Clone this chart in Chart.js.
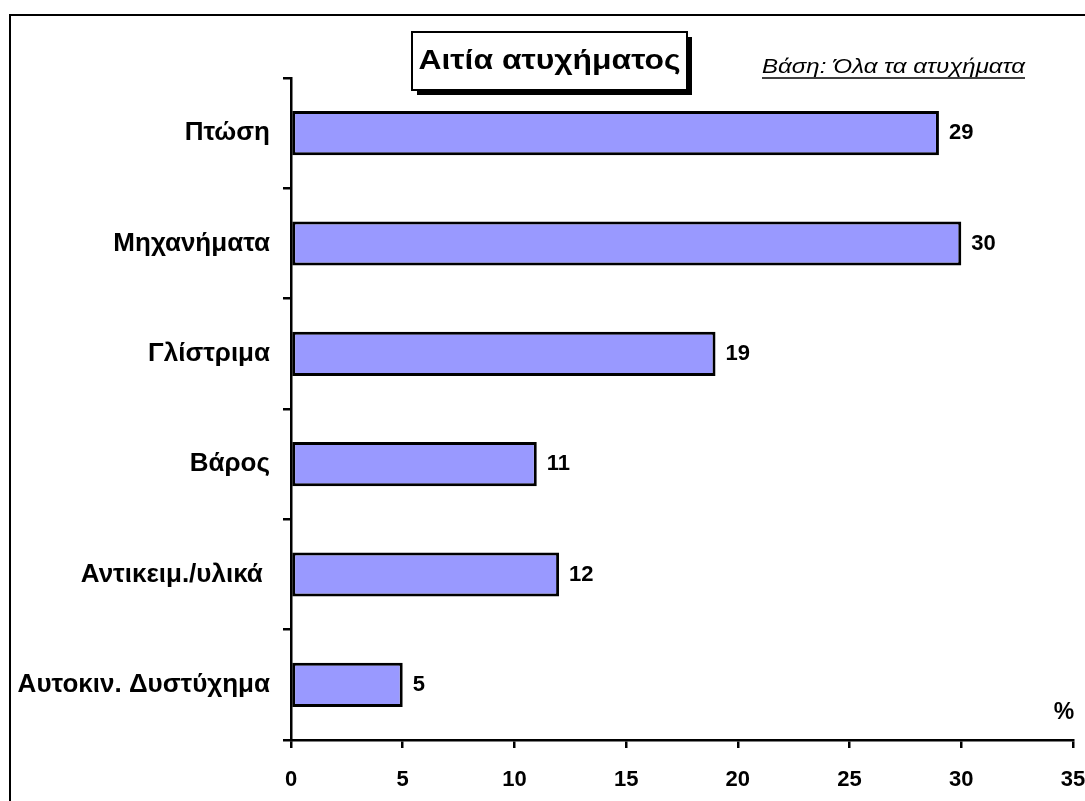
<!DOCTYPE html>
<html>
<head>
<meta charset="utf-8">
<script src="https://cdn.jsdelivr.net/npm/chart.js@4/dist/chart.umd.min.js"></script>
<style>
html,body{margin:0;padding:0;background:#fff;overflow:hidden;}
canvas{display:block;}
</style>
</head>
<body>
<canvas id="c" width="1085" height="801"></canvas>
<script>
const categories = ["Πτώση", "Μηχανήματα", "Γλίστριμα", "Βάρος", "Αντικειμ./υλικά ", "Αυτοκιν. Δυστύχημα"];
const values = [29, 30, 19, 11, 12, 5];
const xTicks = [0, 5, 10, 15, 20, 25, 30, 35];
const titleText = "Αιτία ατυχήματος";
const subtitleText = "Βάση: Όλα τα ατυχήματα";
const unitText = "%";

const FONT = "'Liberation Sans', Arial, Helvetica, sans-serif";

function drawStretched(ctx, text, cx, cy, targetW, align) {
  const w = ctx.measureText(text).width;
  const s = targetW / w;
  ctx.save();
  ctx.translate(cx, cy);
  ctx.scale(s, 1);
  ctx.textAlign = align;
  ctx.fillText(text, 0, 0);
  ctx.restore();
  return targetW;
}

const decor = {
  id: 'decor',
  beforeDraw(chart) {
    const ctx = chart.ctx;
    ctx.save();
    ctx.fillStyle = '#fff';
    ctx.fillRect(0, 0, chart.width, chart.height);
    ctx.strokeStyle = '#000';
    ctx.lineWidth = 2;
    ctx.beginPath();
    ctx.moveTo(10, chart.height + 5);
    ctx.lineTo(10, 15);
    ctx.lineTo(chart.width + 5, 15);
    ctx.stroke();
    ctx.restore();
  },
  afterDraw(chart) {
    const ctx = chart.ctx;
    ctx.save();
    const bx = 412, by = 32, bw = 275, bh = 58;
    ctx.fillStyle = '#000';
    ctx.fillRect(bx + 5, by + 5, bw, bh);
    ctx.fillStyle = '#fff';
    ctx.fillRect(bx, by, bw, bh);
    ctx.strokeStyle = '#000';
    ctx.lineWidth = 2;
    ctx.strokeRect(bx, by, bw, bh);
    ctx.fillStyle = '#000';
    ctx.font = "bold 27px " + FONT;
    ctx.textBaseline = 'middle';
    drawStretched(ctx, titleText, bx + bw / 2, by + bh / 2 + 1, 262, 'center');

    ctx.font = "italic 21px " + FONT;
    ctx.textBaseline = 'alphabetic';
    const sx = 1025, sy = 73;
    const w = drawStretched(ctx, subtitleText, sx, sy, 263, 'right');
    ctx.lineWidth = 1.5;
    ctx.beginPath();
    ctx.moveTo(sx - w, sy + 5);
    ctx.lineTo(sx, sy + 5);
    ctx.stroke();

    const xs = chart.scales.x;
    ctx.font = "bold 23px " + FONT;
    ctx.textAlign = 'center';
    ctx.textBaseline = 'middle';
    ctx.fillText(unitText, xs.getPixelForValue(35) - 9, chart.chartArea.bottom - 27);
    ctx.restore();
  },
  afterDatasetsDraw(chart) {
    const ctx = chart.ctx;
    const meta = chart.getDatasetMeta(0);
    ctx.save();
    ctx.fillStyle = '#000';
    ctx.font = "bold 22px " + FONT;
    ctx.textAlign = 'left';
    ctx.textBaseline = 'middle';
    meta.data.forEach((bar, i) => {
      ctx.fillText(String(values[i]), bar.x + 10, bar.y);
    });
    ctx.restore();
  }
};

new Chart(document.getElementById('c'), {
  type: 'bar',
  data: {
    labels: categories,
    datasets: [{
      data: values,
      backgroundColor: '#9999FF',
      borderColor: '#000',
      borderWidth: 3,
      borderSkipped: false,
      barPercentage: 0.8,
      categoryPercentage: 0.5
    }]
  },
  options: {
    indexAxis: 'y',
    responsive: false,
    animation: false,
    devicePixelRatio: 1,
    layout: { padding: { top: 78, right: 12, left: 0, bottom: 0 } },
    plugins: { legend: { display: false }, tooltip: { enabled: false }, title: { display: false } },
    scales: {
      x: {
        type: 'linear',
        min: 0, max: 35,
        afterBuildTicks(scale) { scale.ticks = xTicks.map(v => ({ value: v })); },
        afterFit(scale) { scale.height = 61; scale.paddingLeft = 0; scale.paddingRight = 0; },
        border: { display: true, color: '#000', width: 2.5 },
        grid: { display: true, drawOnChartArea: false, drawTicks: true, tickLength: 8, color: '#000', lineWidth: 2.5 },
        ticks: { color: '#000', font: { family: FONT, size: 22, weight: 'bold' }, padding: 19, maxRotation: 0 }
      },
      y: {
        afterFit(scale) { scale.width = 291; },
        border: { display: true, color: '#000', width: 2.5 },
        grid: { display: true, offset: true, drawOnChartArea: false, drawTicks: true, tickLength: 8, color: '#000', lineWidth: 2.5 },
        ticks: { color: '#000', font: { family: FONT, size: 26, weight: 'bold' }, padding: 13 }
      }
    }
  },
  plugins: [decor]
});
</script>
</body>
</html>
